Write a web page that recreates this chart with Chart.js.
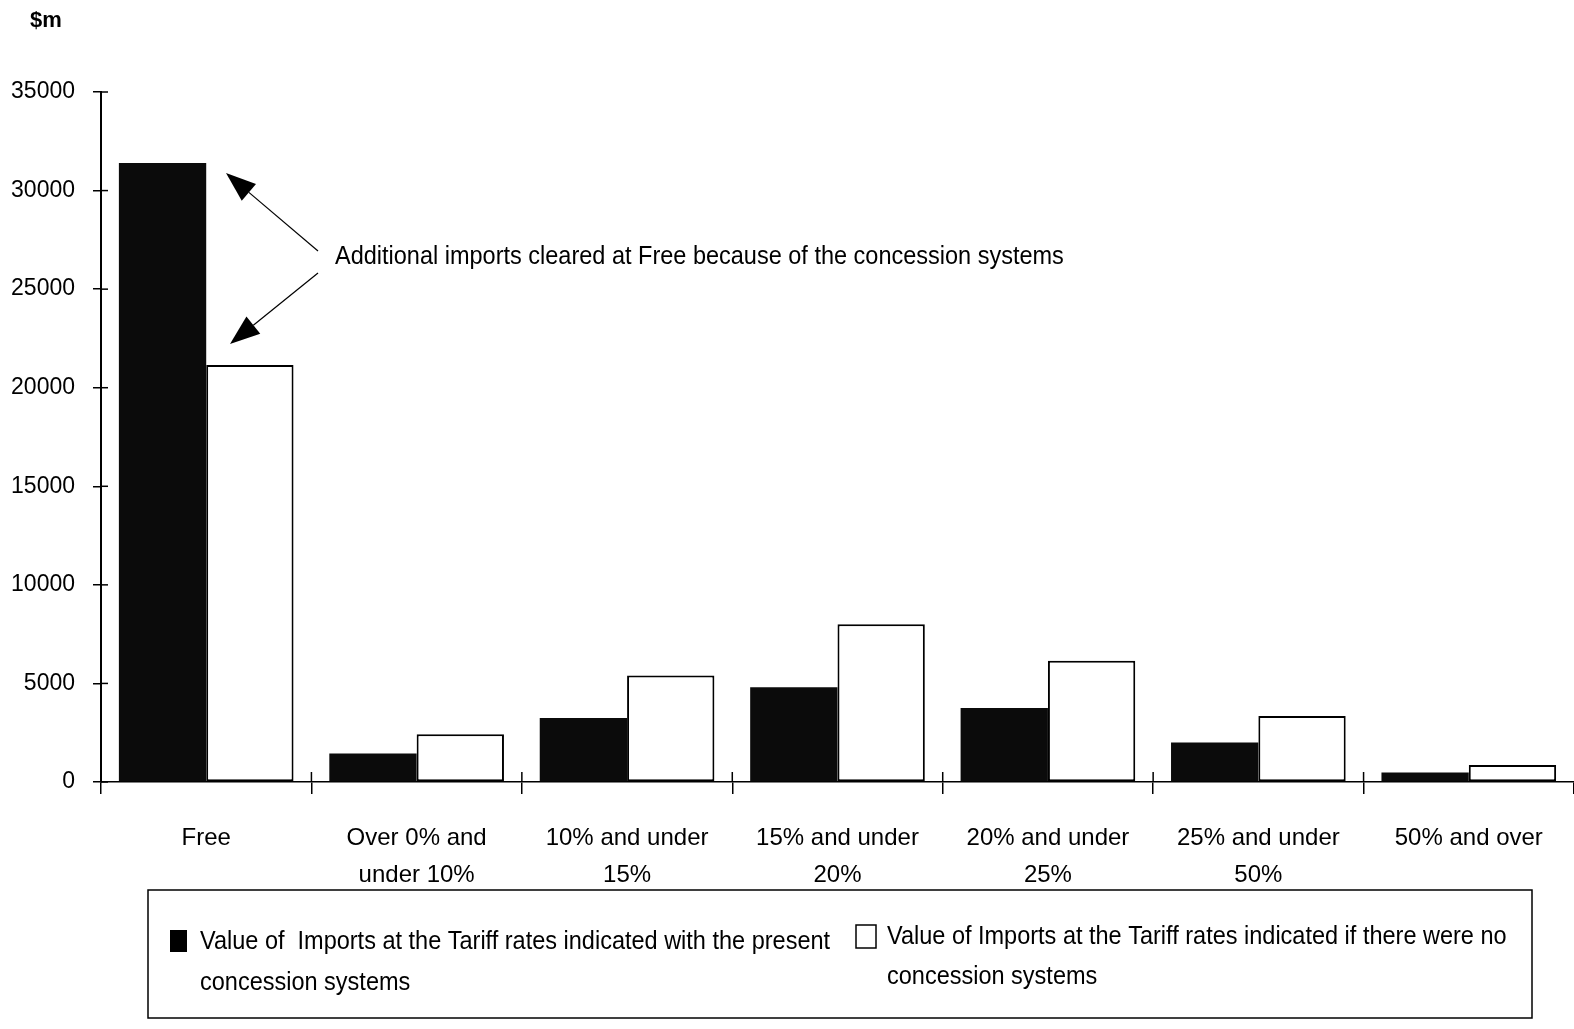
<!DOCTYPE html>
<html>
<head>
<meta charset="utf-8">
<script src="https://cdn.jsdelivr.net/npm/chart.js@4.4.1/dist/chart.umd.min.js"></script>
<style>
  html, body { margin: 0; padding: 0; background: #fff; }
  #wrap { width: 1574px; height: 1029px; }
</style>
</head>
<body>
<div id="wrap"><canvas id="chart"></canvas></div>
<script>
// tariff rate bands
const categories = [
  'Free',
  ['Over 0% and', 'under 10%'],
  ['10% and under', '15%'],
  ['15% and under', '20%'],
  ['20% and under', '25%'],
  ['25% and under', '50%'],
  '50% and over'
];
// $m, with the present concession systems
const withConcessions = [31400, 1450, 3250, 4800, 3750, 2000, 480];
// $m, if there were no concession systems
const noConcessions = [21150, 2420, 5400, 8000, 6150, 3350, 860];
const yTicks = [0, 5000, 10000, 15000, 20000, 25000, 30000, 35000];

const legendLabels = [
  ['Value of  Imports at the Tariff rates indicated with the present', 'concession systems'],
  ['Value of Imports at the Tariff rates indicated if there were no', 'concession systems']
];
const noteText = 'Additional imports cleared at Free because of the concession systems';

const FONT = "'Liberation Sans', Arial, sans-serif";

// narrower text, like the original's condensed face
function squeezed(ctx, text, x, y) {
  ctx.save();
  ctx.translate(x, y);
  ctx.scale(0.94, 1);
  ctx.fillText(text, 0, 0);
  ctx.restore();
}

function arrow(ctx, x1, y1, x2, y2) {
  // line from (x1,y1) to tip (x2,y2) with filled head
  const ang = Math.atan2(y2 - y1, x2 - x1);
  const len = 30, half = 11;
  const bx = x2 - len * Math.cos(ang), by = y2 - len * Math.sin(ang);
  ctx.beginPath();
  ctx.moveTo(x1, y1);
  ctx.lineTo(bx, by);
  ctx.stroke();
  ctx.beginPath();
  ctx.moveTo(x2, y2);
  ctx.lineTo(bx + half * Math.sin(ang), by - half * Math.cos(ang));
  ctx.lineTo(bx - half * Math.sin(ang), by + half * Math.cos(ang));
  ctx.closePath();
  ctx.fill();
}

const extras = {
  id: 'extras',
  afterDraw(chart) {
    const ctx = chart.ctx;
    const area = chart.chartArea;
    const y = chart.scales.y, x = chart.scales.x;
    ctx.save();
    ctx.strokeStyle = '#000';
    ctx.fillStyle = '#000';
    ctx.lineWidth = 1.5;

    // inner halves of the tick marks
    yTicks.forEach(v => {
      const py = y.getPixelForValue(v);
      ctx.beginPath();
      ctx.moveTo(area.left, py);
      ctx.lineTo(area.left + 7, py);
      ctx.stroke();
    });
    for (let i = 1; i < categories.length; i++) {
      const px = (x.getPixelForValue(i - 1) + x.getPixelForValue(i)) / 2;
      ctx.beginPath();
      ctx.moveTo(px, area.bottom - 10);
      ctx.lineTo(px, area.bottom);
      ctx.stroke();
    }

    // unit label
    ctx.font = 'bold 22px ' + FONT;
    ctx.textAlign = 'left';
    ctx.textBaseline = 'middle';
    ctx.fillText('$m', 30, 21);

    // annotation
    ctx.font = '25px ' + FONT;
    squeezed(ctx, noteText, 335, 257);
    ctx.lineWidth = 1.2;
    arrow(ctx, 318, 251, 226, 173);
    arrow(ctx, 318, 273, 230, 344);

    // legend box
    ctx.lineWidth = 1.5;
    ctx.strokeRect(148, 890, 1384, 128);
    ctx.fillRect(170, 930, 17, 22);
    ctx.strokeRect(856, 925, 20, 23);
    ctx.font = '25px ' + FONT;
    squeezed(ctx, legendLabels[0][0], 200, 942);
    squeezed(ctx, legendLabels[0][1], 200, 983);
    squeezed(ctx, legendLabels[1][0], 887, 937);
    squeezed(ctx, legendLabels[1][1], 887, 977);
    ctx.restore();
  }
};

new Chart(document.getElementById('chart').getContext('2d'), {
  type: 'bar',
  data: {
    labels: categories,
    datasets: [
      {
        label: legendLabels[0].join(' '),
        data: withConcessions,
        backgroundColor: '#0b0b0b',
        borderWidth: 0,
        barPercentage: 1.0,
        categoryPercentage: 0.83
      },
      {
        label: legendLabels[1].join(' '),
        data: noConcessions,
        backgroundColor: '#ffffff',
        borderColor: '#000000',
        borderWidth: 2,
        borderSkipped: false,
        barPercentage: 1.0,
        categoryPercentage: 0.83
      }
    ]
  },
  options: {
    responsive: true,
    maintainAspectRatio: false,
    animation: false,
    layout: { padding: { top: 92, right: 0, left: 0, bottom: 0 } },
    plugins: {
      legend: { display: false },
      tooltip: { enabled: false }
    },
    scales: {
      x: {
        afterFit(scale) { scale.height = 247; },
        border: { display: true, color: '#000', width: 1.5 },
        grid: { display: true, drawOnChartArea: false, tickLength: 12, color: '#000', lineWidth: 1.5, offset: true },
        ticks: {
          color: '#000',
          padding: 26,
          maxRotation: 0,
          autoSkip: false,
          font: { family: FONT, size: 24, lineHeight: 1.55 }
        }
      },
      y: {
        min: 0,
        max: 35000,
        afterFit(scale) { scale.width = 101; },
        afterBuildTicks(scale) { scale.ticks = yTicks.map(v => ({ value: v })); },
        border: { display: true, color: '#000', width: 2 },
        grid: { display: true, drawOnChartArea: false, tickLength: 8, color: '#000', lineWidth: 1.5 },
        ticks: {
          color: '#000',
          padding: 18,
          font: { family: FONT, size: 23 },
          callback: v => String(v)
        }
      }
    }
  },
  plugins: [extras]
});
</script>
</body>
</html>
